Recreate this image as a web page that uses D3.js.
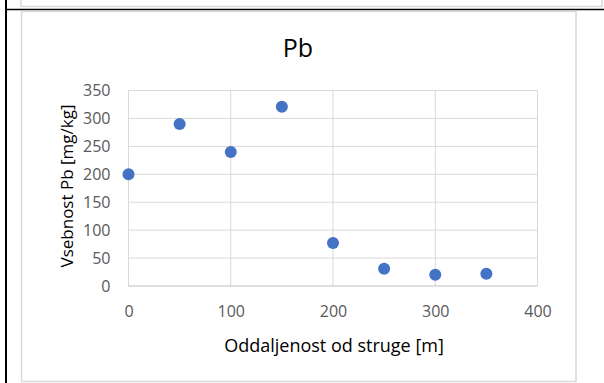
<!DOCTYPE html>
<html>
<head>
<meta charset="utf-8">
<script src="https://cdn.jsdelivr.net/npm/d3@7"></script>
<style>
  body { margin: 0; background: #fff; }
  svg { display: block; font-family: "Open Sans", "Liberation Sans", sans-serif; }
</style>
</head>
<body>
<svg id="chart" width="604" height="383"></svg>
<script>
// podatki
const distance = [0, 50, 100, 150, 200, 250, 300, 350];
const lead = [200, 290, 240, 321, 77, 31, 20, 22];
const xTicks = [0, 100, 200, 300, 400];
const yTicks = [0, 50, 100, 150, 200, 250, 300, 350];

const svg = d3.select("#chart");

// okvir tabele (Word)
svg.append("rect").attr("x", 21).attr("y", -10).attr("width", 581).attr("height", 16.5)
  .attr("fill", "none").attr("stroke", "#d9d9d9").attr("stroke-width", 1.5);
svg.append("line").attr("x1", 6).attr("x2", 6).attr("y1", 0).attr("y2", 383)
  .attr("stroke", "#000").attr("stroke-width", 2);
svg.append("line").attr("x1", 5).attr("x2", 604).attr("y1", 9.5).attr("y2", 9.5)
  .attr("stroke", "#000").attr("stroke-width", 1.5);

// okvir grafa
svg.append("rect").attr("x", 21.5).attr("y", 11.5).attr("width", 554.5).attr("height", 370)
  .attr("fill", "#fff").attr("stroke", "#d9d9d9").attr("stroke-width", 1.5);

const x = d3.scaleLinear().domain([0, 400]).range([128.5, 537.5]);
const y = d3.scaleLinear().domain([0, 350]).range([286, 90.5]);

// mreža
svg.append("g").selectAll("line").data(yTicks.slice(1)).enter().append("line")
  .attr("x1", x(0)).attr("x2", x(400)).attr("y1", d => y(d)).attr("y2", d => y(d))
  .attr("stroke", "#d9d9d9").attr("stroke-width", 1);
svg.append("g").selectAll("line").data(xTicks).enter().append("line")
  .attr("x1", d => x(d)).attr("x2", d => x(d)).attr("y1", y(0)).attr("y2", y(350))
  .attr("stroke", "#d9d9d9").attr("stroke-width", 1);
svg.append("line").attr("x1", x(0)).attr("x2", x(400)).attr("y1", y(0)).attr("y2", y(0))
  .attr("stroke", "#bfbfbf").attr("stroke-width", 1);

// osi
const xAxis = svg.append("g").attr("transform", `translate(0,${y(0)})`)
  .call(d3.axisBottom(x).tickValues(xTicks).tickSize(0).tickPadding(20));
const yAxis = svg.append("g").attr("transform", `translate(${x(0)},0)`)
  .call(d3.axisLeft(y).tickValues(yTicks).tickSize(0).tickPadding(18));
[xAxis, yAxis].forEach(a => {
  a.select(".domain").remove();
  a.selectAll("text").attr("fill", "#595959").style("font-size", "16px")
    .style("font-family", "'Open Sans', sans-serif");
});

// točke
svg.append("g").selectAll("circle").data(distance).enter().append("circle")
  .attr("cx", d => x(d)).attr("cy", (d, i) => y(lead[i])).attr("r", 6)
  .attr("fill", "#4472c4");

// naslovi
svg.append("text").attr("x", 298).attr("y", 56.5).attr("text-anchor", "middle")
  .attr("fill", "#000").style("font-size", "25px").text("Pb");
svg.append("text").attr("x", 334).attr("y", 352).attr("text-anchor", "middle")
  .attr("fill", "#000").style("font-size", "18px").text("Oddaljenost od struge [m]");
svg.append("text").attr("transform", "translate(73,186) rotate(-90)").attr("text-anchor", "middle")
  .attr("fill", "#000").style("font-size", "17px").text("Vsebnost Pb [mg/kg]");
</script>
</body>
</html>
